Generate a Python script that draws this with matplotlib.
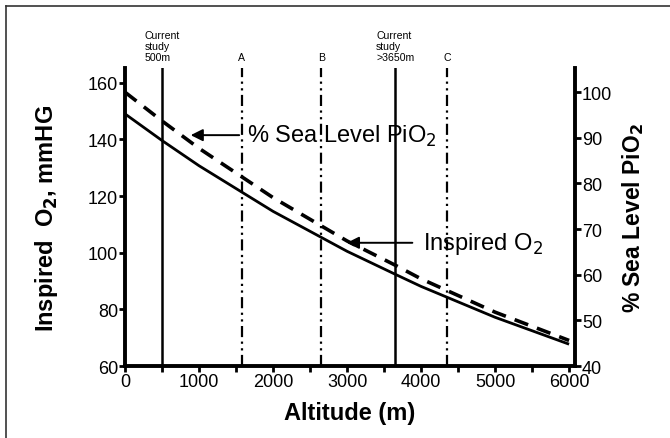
import numpy as np
import matplotlib
matplotlib.use("Agg")
import matplotlib.pyplot as plt
from matplotlib.lines import Line2D

plt.rcParams['font.family'] = ['Liberation Sans', 'DejaVu Sans']

# data
altitude = [0, 500, 1000, 2000, 3000, 3650, 4000, 5000, 6000]
inspired_o2 = [149.0, 139.6, 130.7, 114.6, 100.5, 92.4, 88.1, 77.2, 67.7]      # mmHg
pct_sea_level = [100.0, 93.7, 87.7, 76.9, 67.4, 62.1, 59.1, 51.8, 45.6]       # %

study_alts = [500, 3650]
study_labels = ['Current\nstudy\n500m', 'Current\nstudy\n>3650m']
ref_alts = [1580, 2650, 4350]
ref_labels = ['A', 'B', 'C']

fig = plt.figure(figsize=(6.70, 4.39), dpi=100)
ax = fig.add_axes([0.1866, 0.164, 0.6716, 0.6788])
ax2 = ax.twinx()

ax.plot(altitude, inspired_o2, color='black', lw=2, solid_capstyle='butt')
ax2.plot(altitude, pct_sea_level, color='black', lw=2.6, dashes=(4, 2.6))

tr = ax.get_xaxis_transform()
for x, lab in zip(study_alts, study_labels):
    ax.axvline(x, color='black', lw=1.8)
    ax.text(x, 1.02, lab, transform=tr, ha='center', va='bottom',
            multialignment='left', fontsize=7.6, linespacing=1.15)
for x, lab in zip(ref_alts, ref_labels):
    ax.axvline(x, color='black', lw=1.6, linestyle=(0, (5, 2, 1, 2, 1, 2)))
    ax.text(x, 1.02, lab, transform=tr, ha='center', va='bottom', fontsize=7.6)

ax.set_xlim(0, 6080)
ax.set_ylim(60, 165.2)
ax2.set_ylim(40, 105.3)
ax.set_xticks(np.arange(0, 6001, 1000))
ax.set_xticks(np.arange(500, 6001, 1000), minor=True)
ax.set_yticks(np.arange(60, 161, 20))
ax2.set_yticks(np.arange(40, 101, 10))

for a in (ax, ax2):
    a.spines['top'].set_visible(False)
    for s in ('left', 'right', 'bottom'):
        a.spines[s].set_linewidth(2.8)
    a.tick_params(width=2, length=4, labelsize=13, pad=1)
ax.tick_params(axis='x', which='minor', width=2, length=4)
ax.spines['right'].set_visible(False)
ax2.spines['left'].set_visible(False)
ax2.spines['bottom'].set_visible(False)

ax.set_xlabel('Altitude (m)', fontsize=17, fontweight='bold', labelpad=8)
ax.set_ylabel('Inspired  O$_\\mathbf{2}$, mmHG', fontsize=17, fontweight='bold', labelpad=20)
ax2.set_ylabel('% Sea Level PiO$_\\mathbf{2}$', fontsize=16.5, fontweight='bold', labelpad=6)

arrow = dict(arrowstyle='-|>', color='black', lw=1.4, mutation_scale=18)
ax.annotate('', xy=(850, 141.5), xytext=(1580, 141.5), arrowprops=arrow)
ax.text(1650, 141.5, '% Sea Level PiO$_2$', fontsize=17, va='center', ha='left')
ax.annotate('', xy=(2960, 103.5), xytext=(3920, 103.5), arrowprops=arrow)
ax.text(4020, 103.5, 'Inspired O$_2$', fontsize=17, va='center', ha='left')

# outer frame (only left and top visible in the original)
fig.add_artist(Line2D([5.5 / 670, 5.5 / 670], [0, 1 - 7 / 439], color='#333333', lw=1.2))
fig.add_artist(Line2D([5.5 / 670, 1], [1 - 7 / 439, 1 - 7 / 439], color='#333333', lw=1.2))

fig.savefig('out.png', dpi=100)
